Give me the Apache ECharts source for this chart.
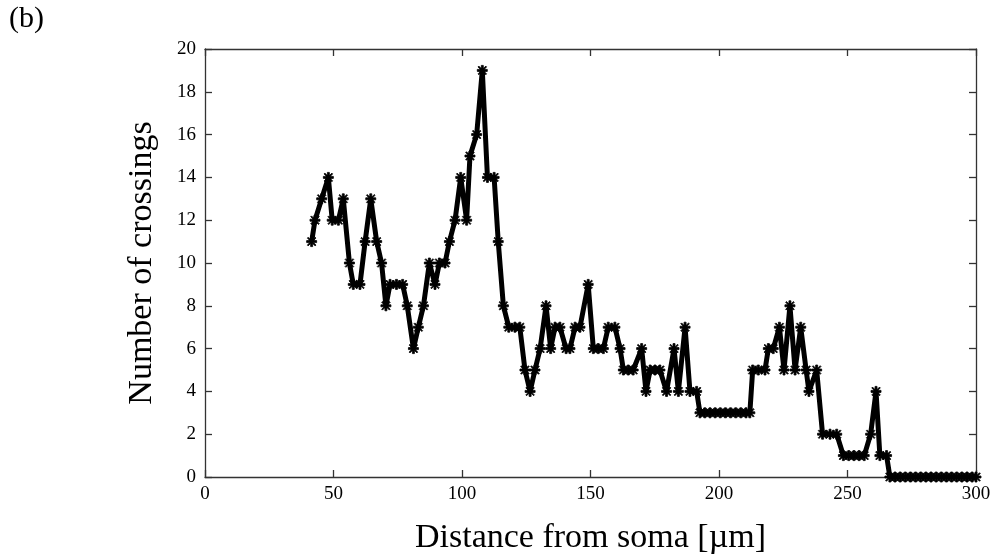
<!DOCTYPE html>
<html><head><meta charset="utf-8">
<script src="https://cdn.jsdelivr.net/npm/echarts@6/dist/echarts.min.js"></script>
<style>html,body{margin:0;padding:0;background:#fff}#c{width:1000px;height:555px}</style>
</head><body><div id="c"></div>
<script>
const distances = [41.5,42.8,45.4,48.0,49.5,51.9,53.8,56.2,57.7,60.3,62.3,64.5,66.8,68.7,70.4,72.0,74.5,76.9,78.7,81.1,83.0,85.0,87.3,89.5,91.2,93.4,95.1,97.3,99.5,101.8,103.1,105.7,107.9,109.9,112.5,114.1,116.1,118.2,120.6,122.5,124.5,126.5,128.4,130.4,132.7,134.5,136.2,138.1,140.5,142.0,144.0,145.9,149.1,151.1,153.0,155.0,156.9,159.5,161.5,162.8,164.7,166.6,169.9,171.6,173.2,175.1,177.0,179.6,182.5,184.2,186.8,188.7,191.3,192.6,194.5,196.5,198.5,200.5,202.5,204.5,206.5,208.5,210.5,212.0,213.1,215.3,217.9,219.2,221.1,223.5,225.3,227.6,229.6,231.8,233.9,235.0,238.0,240.3,243.2,245.8,248.4,250.5,252.5,254.5,256.5,259.0,261.1,262.6,265.2,266.5,268.5,270.5,272.5,274.5,276.5,278.5,280.5,282.5,284.5,286.5,288.5,290.5,292.5,294.5,296.5,298.5,300.0];
const crossings = [11,12,13,14,12,12,13,10,9,9,11,13,11,10,8,9,9,9,8,6,7,8,10,9,10,10,11,12,14,12,15,16,19,14,14,11,8,7,7,7,5,4,5,6,8,6,7,7,6,6,7,7,9,6,6,6,7,7,6,5,5,5,6,4,5,5,5,4,6,4,7,4,4,3,3,3,3,3,3,3,3,3,3,3,5,5,5,6,6,7,5,8,5,7,5,4,5,2,2,2,1,1,1,1,1,2,4,1,1,0,0,0,0,0,0,0,0,0,0,0,0,0,0,0,0,0,0];
const xTicks = [0,50,100,150,200,250,300];
const yTicks = [0,2,4,6,8,10,12,14,16,18,20];

const pts = distances.map((d,i)=>[d, crossings[i]]);
const font = 'Liberation Serif';
const axisLineStyle = {color:'#333', width:1.3};
const chart = echarts.init(document.getElementById('c'));
chart.setOption({
  animation:false,
  backgroundColor:'#fff',
  graphic:[{type:'text', left:9, top:4, style:{text:'(b)', font:'30px "Liberation Serif"', fill:'#000'}}],
  grid:{left:205, right:24, top:49, bottom:78, containLabel:false, outerBoundsMode:'none'},
  xAxis:[
    {type:'value', min:xTicks[0], max:xTicks[xTicks.length-1], interval:50, position:'bottom',
     name:'Distance from soma [µm]', nameLocation:'middle', nameGap:44,
     nameTextStyle:{fontFamily:font, fontSize:34, color:'#000'},
     axisLine:{show:true, onZero:false, lineStyle:axisLineStyle},
     axisTick:{show:true, inside:true, length:7, lineStyle:axisLineStyle},
     axisLabel:{fontFamily:font, fontSize:19, color:'#000', margin:8},
     splitLine:{show:false}},
    {type:'value', min:xTicks[0], max:xTicks[xTicks.length-1], interval:50, position:'top',
     axisLine:{show:true, onZero:false, lineStyle:axisLineStyle},
     axisTick:{show:true, inside:true, length:7, lineStyle:axisLineStyle},
     axisLabel:{show:false}, splitLine:{show:false}}
  ],
  yAxis:[
    {type:'value', min:yTicks[0], max:yTicks[yTicks.length-1], interval:2, position:'left',
     name:'Number of crossings', nameLocation:'middle', nameGap:46, nameRotate:90,
     nameTextStyle:{fontFamily:font, fontSize:34, color:'#000'},
     axisLine:{show:true, onZero:false, lineStyle:axisLineStyle},
     axisTick:{show:true, inside:true, length:7, lineStyle:axisLineStyle},
     axisLabel:{fontFamily:font, fontSize:19, color:'#000', margin:9},
     splitLine:{show:false}},
    {type:'value', min:yTicks[0], max:yTicks[yTicks.length-1], interval:2, position:'right',
     axisLine:{show:true, onZero:false, lineStyle:axisLineStyle},
     axisTick:{show:true, inside:true, length:7, lineStyle:axisLineStyle},
     axisLabel:{show:false}, splitLine:{show:false}}
  ],
  series:[{
    type:'line', data:pts, xAxisIndex:0, yAxisIndex:0,
    symbol:'path://M-1,-5L1,-5L1,-1.8L3.5,-4.3L4.3,-3.5L1.8,-1L5,-1L5,1L1.8,1L4.3,3.5L3.5,4.3L1,1.8L1,5L-1,5L-1,1.8L-3.5,4.3L-4.3,3.5L-1.8,1L-5,1L-5,-1L-1.8,-1L-4.3,-3.5L-3.5,-4.3L-1,-1.8Z',
    symbolSize:10, showAllSymbol:true,
    itemStyle:{color:'#000', borderColor:'#000', borderWidth:0.8},
    lineStyle:{color:'#000', width:5, join:'round'},
    z:3
  }]
});
</script></body></html>
